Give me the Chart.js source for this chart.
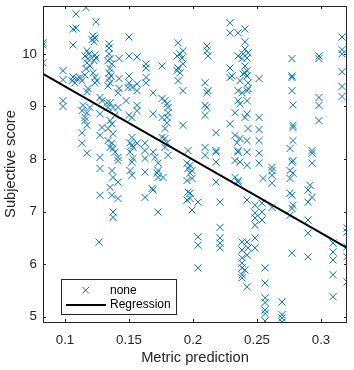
<!DOCTYPE html>
<html>
<head>
<meta charset="utf-8">
<script src="https://cdn.jsdelivr.net/npm/chart.js@4.4.1/dist/chart.umd.min.js"></script>
<style>
  html, body { margin: 0; padding: 0; background: #ffffff; }
  #grafico { display: block; }
</style>
</head>
<body>
<canvas id="grafico" width="354" height="370"></canvas>
<script>
// metric prediction (x) and subjective score (y)
var metricPred = [
    0.1164, 0.1086, 0.1242, 0.1063, 0.1086, 0.0828, 0.0828, 0.0828, 0.1063, 0.1219, 0.1234, 0.1211, 0.1227, 0.1344, 0.1344, 0.1500,
    0.1172, 0.1188, 0.1156, 0.1180, 0.1172, 0.1195, 0.1164, 0.1234, 0.1242, 0.1227, 0.1344, 0.1352, 0.1336, 0.1367, 0.1352, 0.1344,
    0.1359, 0.1422, 0.1500, 0.1563, 0.1633, 0.1633, 0.0984, 0.0984, 0.1063, 0.1094, 0.1078, 0.1055, 0.1117, 0.1133, 0.1156, 0.1219,
    0.1234, 0.1250, 0.1234, 0.1180, 0.1172, 0.1344, 0.1352, 0.1336, 0.1422, 0.1422, 0.1414, 0.1500, 0.1500, 0.1492, 0.1523, 0.1563,
    0.1563, 0.1633, 0.1633, 0.0984, 0.0984, 0.1141, 0.1195, 0.1133, 0.1172, 0.1156, 0.1273, 0.1289, 0.1328, 0.1352, 0.1336, 0.1375,
    0.1414, 0.1391, 0.1500, 0.1523, 0.1563, 0.1563, 0.1477,
    0.2289, 0.2289, 0.2352, 0.2406, 0.2406, 0.2406, 0.2391, 0.2383, 0.2422, 0.2352, 0.2406, 0.1883, 0.1875, 0.1898, 0.1922, 0.1914,
    0.1922, 0.1883, 0.1875, 0.1898, 0.1883, 0.1922, 0.2109, 0.2109, 0.2117, 0.2094, 0.2117, 0.2109, 0.2094, 0.2109, 0.2094, 0.1758,
    0.1688, 0.1688, 0.1758, 0.1781, 0.1797, 0.1805, 0.1805, 0.1797, 0.1758, 0.2289, 0.2289, 0.2305, 0.2367, 0.2391, 0.2406, 0.2422,
    0.2352, 0.2383, 0.2422, 0.2352, 0.2367, 0.2422, 0.2328,
    0.2430, 0.2773, 0.2773, 0.2773, 0.2773, 0.2781, 0.2984, 0.2984, 0.2984, 0.2984, 0.3164, 0.3164, 0.3164, 0.3164, 0.3164, 0.3164,
    0.2422, 0.2430, 0.2430, 0.2422, 0.2406, 0.2516, 0.2516,
    0.1156, 0.1172, 0.1133, 0.1133, 0.1172, 0.1273, 0.1289, 0.1273, 0.1273, 0.1273, 0.1273, 0.1352, 0.1367, 0.1336, 0.1375, 0.1336,
    0.1367, 0.1352, 0.1375, 0.1391, 0.1414, 0.1414, 0.1367, 0.1375, 0.1414, 0.1352, 0.1367, 0.1414, 0.1375, 0.1375, 0.1523, 0.1508,
    0.1523, 0.1531, 0.1508, 0.1531, 0.1523, 0.1508, 0.1523, 0.1563, 0.1625, 0.1625, 0.1625, 0.1625, 0.1625,
    0.1797, 0.1781, 0.1758, 0.1781, 0.1797, 0.1781, 0.1805, 0.1688, 0.1703, 0.1727, 0.1727, 0.1719, 0.1727, 0.1766, 0.1680, 0.1688,
    0.1727, 0.1922, 0.1961, 0.1953, 0.1977, 0.1961, 0.1992, 0.1977, 0.1953, 0.1992, 0.1961, 0.1977, 0.1953, 0.1977, 0.1992, 0.2039,
    0.2094, 0.2094, 0.2180, 0.2180, 0.2180, 0.2180, 0.2180, 0.2211, 0.2211, 0.2289, 0.2328, 0.2344, 0.2367, 0.2352, 0.2352, 0.2328,
    0.2367, 0.2422, 0.2422, 0.2422, 0.2328, 0.2352, 0.2352, 0.2422,
    0.2430, 0.2516, 0.2516, 0.2516, 0.2516, 0.2547, 0.2781, 0.2781, 0.2781, 0.2758, 0.2781, 0.2773, 0.2758, 0.2781, 0.2758, 0.2617,
    0.2617, 0.2617, 0.2617, 0.2984, 0.2930, 0.2930, 0.2930, 0.2914, 0.2898, 0.2930, 0.2898, 0.2898, 0.2758, 0.2773, 0.2781, 0.2773,
    0.2758, 0.2484, 0.2539, 0.2484, 0.2539, 0.2484, 0.2484, 0.2539, 0.2617, 0.3203,
    0.1266,
    0.2211, 0.2211, 0.2211, 0.2039, 0.2039, 0.2039, 0.2383, 0.2422, 0.2383, 0.2383, 0.2383, 0.2422, 0.2406, 0.2383, 0.2383, 0.2422,
    0.2898, 0.2898, 0.2773, 0.2430, 0.2383, 0.2484, 0.2484, 0.2563, 0.2563, 0.2563, 0.2563, 0.2563, 0.2563, 0.2563, 0.2695, 0.2695,
    0.2695, 0.2695, 0.3094, 0.3094, 0.3094, 0.3094, 0.3094, 0.3203, 0.3203, 0.3203, 0.3203
]
var subjScore = [
    10.88, 10.76, 10.61, 10.47, 10.49, 10.21, 10.17, 9.83, 10.17, 10.34, 10.30, 10.27, 10.23, 10.19, 10.11, 10.32,
    10.06, 10.00, 9.96, 9.91, 9.83, 9.77, 9.72, 9.98, 9.92, 9.87, 10.00, 9.91, 9.87, 9.81, 9.72, 9.64,
    9.58, 9.91, 9.96, 9.94, 9.81, 9.73, 9.68, 9.51, 9.56, 9.53, 9.45, 9.49, 9.55, 9.49, 9.60, 9.64,
    9.55, 9.49, 9.45, 9.34, 9.28, 9.53, 9.45, 9.39, 9.53, 9.34, 9.26, 9.58, 9.45, 9.36, 9.36, 9.43,
    9.30, 9.55, 9.45, 9.11, 9.00, 9.02, 8.98, 8.92, 8.88, 8.79, 9.17, 9.11, 9.07, 9.07, 8.98, 8.98,
    8.98, 8.83, 8.83, 8.79, 8.92, 9.02, 9.11,
    10.59, 10.40, 10.40, 10.47, 10.23, 10.09, 10.00, 9.91, 9.92, 9.96, 9.77, 10.21, 9.96, 10.00, 10.06, 9.92,
    9.81, 9.73, 9.68, 9.64, 9.49, 9.30, 10.15, 10.06, 9.96, 9.45, 9.30, 9.26, 9.02, 8.98, 8.83, 9.77,
    9.26, 8.86, 9.15, 9.11, 9.05, 8.98, 8.88, 8.79, 8.79, 9.73, 9.55, 9.58, 9.49, 9.62, 9.64, 9.68,
    9.30, 9.26, 9.30, 9.11, 9.05, 9.11, 8.88,
    10.02, 9.91, 9.58, 9.55, 9.30, 9.03, 9.96, 9.91, 9.17, 9.02, 10.32, 10.08, 10.00, 9.66, 9.38, 9.19,
    9.58, 9.45, 9.34, 8.86, 8.79, 9.53, 8.79,
    8.73, 8.64, 8.50, 8.30, 8.11, 8.86, 8.60, 8.45, 8.03, 7.82, 7.31, 8.73, 8.67, 8.58, 8.48, 8.35,
    8.30, 8.22, 8.20, 8.13, 8.03, 7.97, 7.78, 7.65, 7.56, 7.46, 7.31, 7.25, 6.99, 6.89, 8.41, 8.31,
    8.26, 8.22, 8.13, 8.01, 7.94, 7.78, 7.69, 8.30, 8.30, 8.16, 8.01, 7.75, 7.27,
    8.69, 8.58, 8.41, 8.39, 8.31, 8.22, 8.07, 8.13, 8.03, 7.92, 7.78, 7.73, 7.65, 7.65, 7.44, 7.41,
    6.99, 8.64, 8.16, 7.92, 7.88, 7.82, 7.78, 7.73, 7.59, 7.63, 7.37, 7.35, 7.22, 7.25, 7.03, 7.18,
    8.22, 8.07, 8.50, 8.16, 8.13, 7.94, 7.56, 7.18, 6.70, 8.67, 8.45, 8.31, 8.39, 8.16, 8.13, 7.97,
    7.94, 8.35, 8.13, 7.88, 7.65, 7.59, 7.56, 7.22,
    8.58, 8.56, 8.35, 8.11, 7.92, 7.63, 8.64, 8.60, 8.35, 8.20, 7.97, 7.94, 7.78, 7.73, 7.63, 7.84,
    7.78, 7.69, 7.54, 8.73, 8.16, 8.11, 7.92, 7.50, 7.41, 7.27, 7.18, 6.84, 7.35, 7.31, 7.12, 7.06,
    6.93, 7.12, 7.16, 6.97, 6.99, 6.88, 6.74, 6.84, 7.08, 6.69,
    6.42,
    6.50, 6.40, 6.31, 6.52, 6.36, 5.93, 6.42, 6.42, 6.27, 6.12, 6.02, 6.17, 5.89, 5.80, 5.74, 5.57,
    6.59, 6.14, 6.21, 6.31, 5.93, 6.50, 6.31, 5.93, 5.64, 5.36, 5.27, 5.13, 5.06, 4.92, 5.28, 5.04,
    4.98, 4.90, 6.40, 6.23, 6.08, 5.80, 5.38, 6.61, 6.33, 6.14, 5.66
]

// regression line end points
var regX = [0.0828, 0.3203]
var regY = [9.62, 6.31]

var xTicks = [0.1, 0.15, 0.2, 0.25, 0.3]
var yTicks = [5, 6, 7, 8, 9, 10]
var xRange = [0.0828, 0.3203]
var yRange = [4.9, 10.91]

var AZUL = '#0072BD'
var EJE = '#262626'
var FUENTE = "'Liberation Sans', Arial, Helvetica, sans-serif"

var puntos = []
for (var i = 0; i < metricPred.length; i++) {
    puntos.push({x: metricPred[i], y: subjScore[i]})
}
var lineaReg = regX.map((v, i) => ({x: v, y: regY[i]}))

// caja, ticks hacia dentro y leyenda estilo matlab
var pluginEjes = {
    id: 'pluginEjes',
    afterDatasetsDraw: function (chart) {
        var ctx = chart.ctx
        var a = chart.chartArea
        var sx = chart.scales.x
        var sy = chart.scales.y
        var tl = 3
        ctx.save()
        ctx.strokeStyle = EJE
        ctx.lineWidth = 1
        ctx.strokeRect(a.left + 0.5, a.top + 0.5, a.right - a.left - 1, a.bottom - a.top)
        ctx.beginPath()
        xTicks.forEach(v => {
            var px = Math.round(sx.getPixelForValue(v)) + 0.5
            ctx.moveTo(px, a.bottom); ctx.lineTo(px, a.bottom - tl)
            ctx.moveTo(px, a.top); ctx.lineTo(px, a.top + tl)
        })
        yTicks.forEach(v => {
            var py = Math.round(sy.getPixelForValue(v)) + 0.5
            ctx.moveTo(a.left, py); ctx.lineTo(a.left + tl, py)
            ctx.moveTo(a.right, py); ctx.lineTo(a.right - tl, py)
        })
        ctx.stroke()
        ctx.restore()
    },
    afterDraw: function (chart) {
        var ctx = chart.ctx
        ctx.save()
        // legend box
        ctx.fillStyle = '#ffffff'
        ctx.fillRect(61.5, 279.5, 115, 35)
        ctx.strokeStyle = EJE
        ctx.lineWidth = 1
        ctx.strokeRect(61.5, 279.5, 115, 35)
        // marker
        ctx.strokeStyle = AZUL
        ctx.beginPath()
        ctx.moveTo(82.5, 287); ctx.lineTo(89, 293.5)
        ctx.moveTo(89, 287); ctx.lineTo(82.5, 293.5)
        ctx.stroke()
        // line
        ctx.strokeStyle = '#000000'
        ctx.lineWidth = 2
        ctx.beginPath()
        ctx.moveTo(66, 305); ctx.lineTo(106, 305)
        ctx.stroke()
        ctx.fillStyle = '#000000'
        ctx.font = '12px ' + FUENTE
        ctx.textBaseline = 'middle'
        ctx.textAlign = 'left'
        ctx.fillText('none', 110, 290.5)
        ctx.fillText('Regression', 110, 305)
        ctx.restore()
    }
}

Chart.defaults.font.family = FUENTE

var chart = new Chart(document.getElementById('grafico'), {
    type: 'scatter',
    data: {
        datasets: [{
            label: 'none',
            data: puntos,
            pointStyle: 'crossRot',
            pointRadius: 5,
            pointHoverRadius: 5,
            borderColor: AZUL,
            backgroundColor: AZUL,
            borderWidth: 1,
            order: 1
        }, {
            label: 'Regression',
            type: 'line',
            data: lineaReg,
            borderColor: '#000000',
            borderWidth: 2,
            pointRadius: 0,
            fill: false,
            order: 0
        }]
    },
    options: {
        responsive: false,
        animation: false,
        devicePixelRatio: 1,
        layout: {padding: {top: 5, right: 7, left: 0, bottom: 0}},
        plugins: {legend: {display: false}, tooltip: {enabled: false}},
        scales: {
            x: {
                type: 'linear',
                min: xRange[0], max: xRange[1],
                afterBuildTicks: (s) => { s.ticks = xTicks.map(v => ({value: v})) },
                afterFit: (s) => { s.height = 48; s.paddingLeft = 0; s.paddingRight = 0 },
                grid: {display: false, drawTicks: false},
                border: {display: false},
                ticks: {color: EJE, font: {size: 13.3}, padding: 10, maxRotation: 0, callback: v => String(v)},
                title: {display: true, text: 'Metric prediction', color: EJE, font: {size: 14.7}, padding: {top: 0, bottom: 3}}
            },
            y: {
                type: 'linear',
                min: yRange[0], max: yRange[1],
                afterBuildTicks: (s) => { s.ticks = yTicks.map(v => ({value: v})) },
                afterFit: (s) => { s.width = 43; s.paddingTop = 0; s.paddingBottom = 0 },
                grid: {display: false, drawTicks: false},
                border: {display: false},
                ticks: {color: EJE, font: {size: 13.3}, padding: 6, callback: v => String(v)},
                title: {display: true, text: 'Subjective score', color: EJE, font: {size: 14.7}, padding: {top: 2, bottom: 0}}
            }
        }
    },
    plugins: [pluginEjes]
})
</script>
</body>
</html>
